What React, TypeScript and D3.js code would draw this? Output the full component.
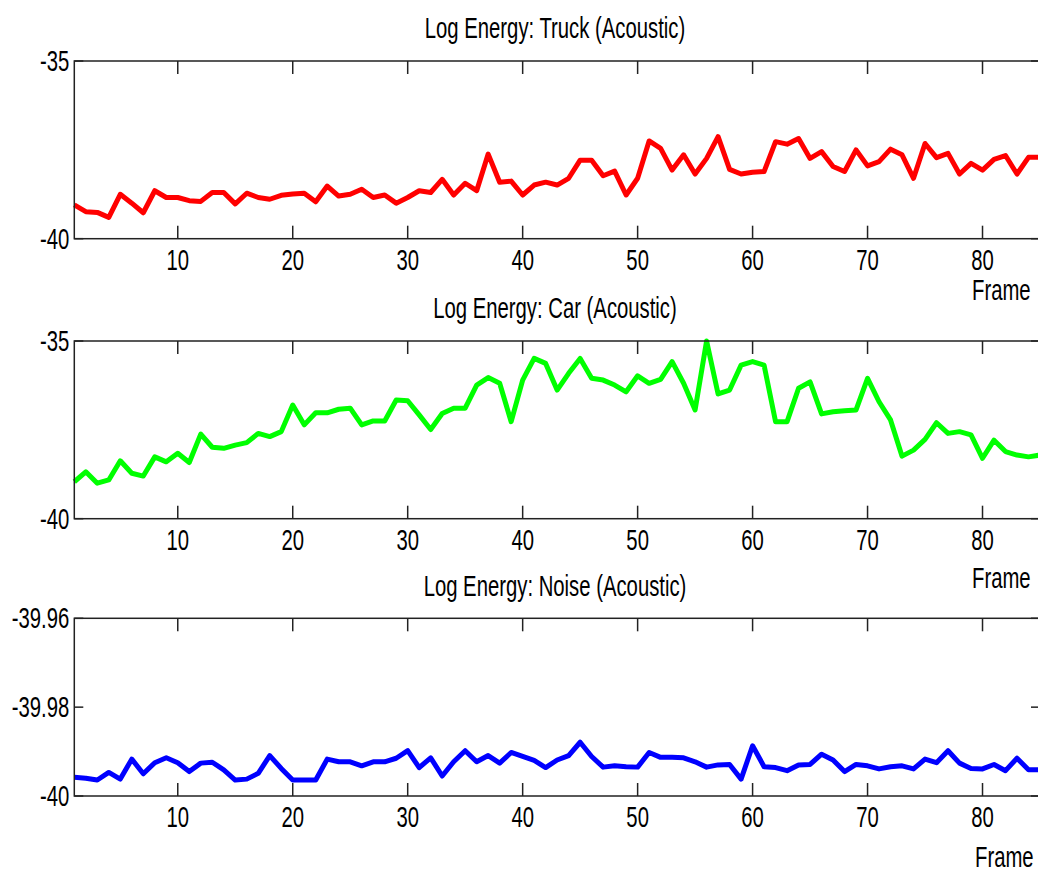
import * as d3 from 'd3';
import { useEffect, useRef } from 'react';

// log energy per frame (frames 1..85)
const truckEnergy = [
  -39.05, -39.24, -39.26, -39.4, -38.75, -39.0, -39.27, -38.65, -38.84, -38.84,
  -38.93, -38.95, -38.7, -38.7, -39.02, -38.72, -38.84, -38.89, -38.78, -38.74,
  -38.72, -38.96, -38.52, -38.8, -38.75, -38.61, -38.84, -38.77, -39.0, -38.84,
  -38.65, -38.7, -38.33, -38.77, -38.44, -38.65, -37.62, -38.41, -38.38, -38.77,
  -38.49, -38.41, -38.49, -38.3, -37.79, -37.79, -38.23, -38.1, -38.77, -38.3,
  -37.25, -37.46, -38.07, -37.64, -38.18, -37.74, -37.13, -38.05, -38.18, -38.13,
  -38.11, -37.27, -37.34, -37.18, -37.74, -37.55, -37.97, -38.11, -37.5, -37.95,
  -37.83, -37.48, -37.64, -38.3, -37.32, -37.72, -37.6, -38.18, -37.88, -38.07,
  -37.77, -37.66, -38.18, -37.71, -37.71,
];

const carEnergy = [
  -38.96, -38.68, -39.0, -38.91, -38.37, -38.72, -38.8, -38.26, -38.4, -38.16,
  -38.42, -37.62, -37.99, -38.02, -37.93, -37.86, -37.6, -37.69, -37.55, -36.8,
  -37.36, -37.02, -37.02, -36.92, -36.89, -37.36, -37.25, -37.25, -36.66, -36.68,
  -37.08, -37.49, -37.04, -36.89, -36.89, -36.24, -36.03, -36.19, -37.27, -36.1,
  -35.49, -35.63, -36.38, -35.91, -35.49, -36.05, -36.1, -36.24, -36.43, -35.98,
  -36.19, -36.08, -35.58, -36.19, -36.94, -35.0, -36.49, -36.38, -35.68, -35.58,
  -35.68, -37.27, -37.27, -36.33, -36.15, -37.05, -36.99, -36.96, -36.94, -36.05,
  -36.71, -37.22, -38.24, -38.07, -37.77, -37.3, -37.6, -37.55, -37.64, -38.3,
  -37.79, -38.11, -38.21, -38.26, -38.21,
];

const noiseEnergy = [
  -39.9958, -39.996, -39.9964, -39.9947, -39.9962, -39.9917, -39.995, -39.9925, -39.9914, -39.9925,
  -39.9945, -39.9926, -39.9924, -39.9941, -39.9964, -39.9962, -39.9949, -39.9909, -39.9938, -39.9964,
  -39.9964, -39.9964, -39.9917, -39.9923, -39.9923, -39.9932, -39.9923, -39.9923, -39.9915, -39.9898,
  -39.9936, -39.9914, -39.9955, -39.9923, -39.9898, -39.9923, -39.9909, -39.9926, -39.9902, -39.9911,
  -39.992, -39.9936, -39.9919, -39.9909, -39.9879, -39.9911, -39.9935, -39.9932, -39.9934, -39.9935,
  -39.9902, -39.9913, -39.9913, -39.9914, -39.9923, -39.9935, -39.993, -39.9929, -39.9962, -39.9887,
  -39.9934, -39.9936, -39.9943, -39.993, -39.9929, -39.9906, -39.9919, -39.9945, -39.9929, -39.9932,
  -39.9939, -39.9934, -39.9932, -39.9939, -39.9917, -39.9925, -39.9898, -39.9926, -39.9938, -39.9939,
  -39.9929, -39.9943, -39.9915, -39.9941, -39.9941,
];

const panelTitles = ['Log Energy: Truck (Acoustic)', 'Log Energy: Car (Acoustic)', 'Log Energy: Noise (Acoustic)'];
const panelSeries = [truckEnergy, carEnergy, noiseEnergy];
const panelColors = ['#ff0000', '#00ff00', '#0000ff'];
const panelYDomains = [[-40, -35], [-40, -35], [-40, -39.96]];
const panelYTicks = [[-40, -35], [-40, -35], [-40, -39.98, -39.96]];
const xTicks = [10, 20, 30, 40, 50, 60, 70, 80];
const xLabel = 'Frame';
const xDomain = [1, 85];

// layout (pixels)
const W = 1038;
const H = 872;
const plotLeft = 74.3;
const plotRight = 1040;
const plotHeight = 177.7;
const panelTops = [61, 341, 618.3];
const frameLabelPos = [
  { x: 972, y: 299.5 },
  { x: 972, y: 588 },
  { x: 975, y: 866.7 },
];
const FONT = '"Liberation Sans", Arial, sans-serif';
const FONT_SIZE = 29;
const SQUEEZE = 0.7;

export default function App() {
  const ref = useRef<SVGSVGElement>(null);

  useEffect(() => {
    if (!ref.current) return;
    const svg = d3.select(ref.current);
    svg.selectAll('*').remove();

    const x = d3.scaleLinear().domain(xDomain).range([plotLeft, plotRight]);

    // narrow text like the original (squeezed horizontally)
    const label = (
      g: d3.Selection<SVGGElement, unknown, null, undefined>,
      tx: number,
      ty: number,
      text: string,
      anchor: string,
    ) => {
      g.append('g')
        .attr('transform', `translate(${tx},${ty}) scale(${SQUEEZE},1)`)
        .append('text')
        .attr('text-anchor', anchor)
        .style('font-family', FONT)
        .style('font-size', `${FONT_SIZE}px`)
        .attr('fill', '#000')
        .text(text);
    };

    panelSeries.forEach((series, p) => {
      const top = panelTops[p];
      const bottom = top + plotHeight;
      const y = d3.scaleLinear().domain(panelYDomains[p]).range([bottom, top]);
      const g = svg.append('g');

      // title
      label(g, 555, top - 22.7, panelTitles[p], 'middle');

      // data line
      const line = d3
        .line<number>()
        .x((_, i) => x(i + 1))
        .y((d) => y(d));
      g.append('path')
        .datum(series)
        .attr('fill', 'none')
        .attr('stroke', panelColors[p])
        .attr('stroke-width', 5)
        .attr('stroke-linejoin', 'round')
        .attr('d', line);

      // box
      g.append('rect')
        .attr('x', plotLeft)
        .attr('y', top)
        .attr('width', plotRight - plotLeft)
        .attr('height', plotHeight)
        .attr('fill', 'none')
        .attr('stroke', '#222')
        .attr('stroke-width', 1.5);

      // x ticks, top and bottom, pointing inwards
      xTicks.forEach((t) => {
        const tx = x(t);
        g.append('line').attr('x1', tx).attr('x2', tx).attr('y1', bottom).attr('y2', bottom - 13)
          .attr('stroke', '#222').attr('stroke-width', 1.5);
        g.append('line').attr('x1', tx).attr('x2', tx).attr('y1', top).attr('y2', top + 13)
          .attr('stroke', '#222').attr('stroke-width', 1.5);
        label(g, tx, bottom + 31.3, String(t), 'middle');
      });

      // y ticks, left and right
      panelYTicks[p].forEach((t) => {
        const ty = y(t);
        g.append('line').attr('x1', plotLeft).attr('x2', plotLeft + 9).attr('y1', ty).attr('y2', ty)
          .attr('stroke', '#222').attr('stroke-width', 1.5);
        g.append('line').attr('x1', plotRight - 9).attr('x2', plotRight).attr('y1', ty).attr('y2', ty)
          .attr('stroke', '#222').attr('stroke-width', 1.5);
        label(g, plotLeft - 5, ty + 10, String(t), 'end');
      });

      label(g, frameLabelPos[p].x, frameLabelPos[p].y, xLabel, 'start');
    });
  }, []);

  return (
    <div style={{ position: 'absolute', left: 0, top: 0, width: W, height: H, background: '#fff' }}>
      <svg ref={ref} width={W} height={H} style={{ display: 'block', overflow: 'hidden' }} />
    </div>
  );
}
